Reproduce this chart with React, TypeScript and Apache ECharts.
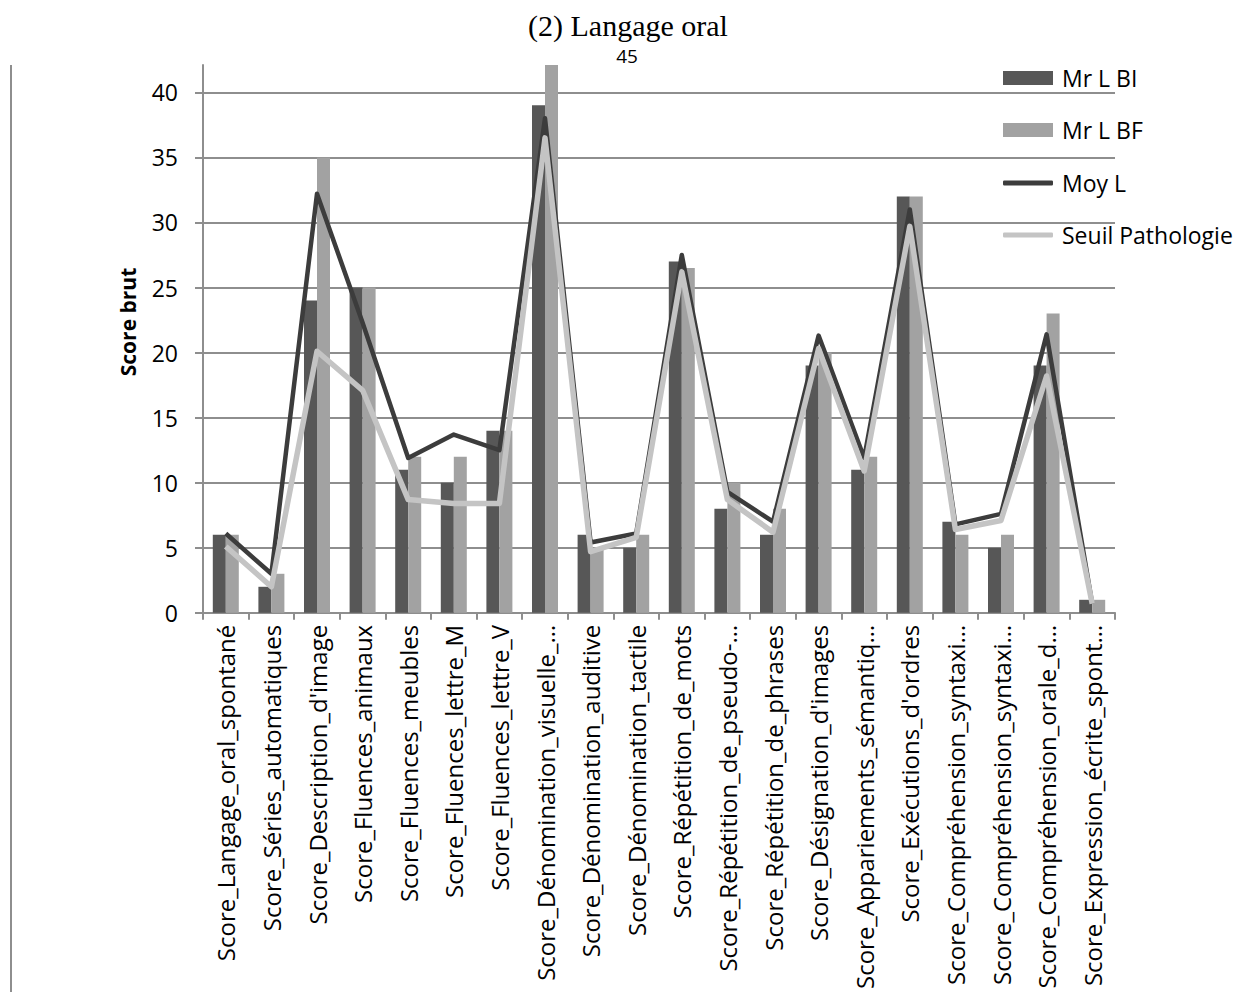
import React, { useEffect, useRef } from "react";
import * as echarts from "echarts";

const categories = [
  "Score_Langage_oral_spontané",
  "Score_Séries_automatiques",
  "Score_Description_d'image",
  "Score_Fluences_animaux",
  "Score_Fluences_meubles",
  "Score_Fluences_lettre_M",
  "Score_Fluences_lettre_V",
  "Score_Dénomination_visuelle_…",
  "Score_Dénomination_auditive",
  "Score_Dénomination_tactile",
  "Score_Répétition_de_mots",
  "Score_Répétition_de_pseudo-…",
  "Score_Répétition_de_phrases",
  "Score_Désignation_d'images",
  "Score_Appariements_sémantiq…",
  "Score_Exécutions_d'ordres",
  "Score_Compréhension_syntaxi…",
  "Score_Compréhension_syntaxi…",
  "Score_Compréhension_orale_d…",
  "Score_Expression_écrite_spont…",
];

const mrLBI = [6, 2, 24, 25, 11, 10, 14, 39, 6, 5, 27, 8, 6, 19, 11, 32, 7, 5, 19, 1];
const mrLBF = [6, 3, 35, 25, 12, 12, 14, 45, 5, 6, 26.5, 10, 8, 20, 12, 32, 6, 6, 23, 1];
const moyL = [6.1, 3.0, 32.2, 22.3, 11.9, 13.7, 12.5, 38.0, 5.4, 6.1, 27.5, 9.3, 7.0, 21.3, 11.9, 31.0, 6.8, 7.6, 21.4, 0.7];
const seuil = [5.1, 2.0, 20.1, 17.1, 8.7, 8.4, 8.4, 36.5, 4.7, 5.8, 26.2, 8.7, 6.2, 20.3, 10.9, 29.7, 6.4, 7.1, 18.2, 0.7];

const yTicks = [0, 5, 10, 15, 20, 25, 30, 35, 40];

const FONT = "Open Sans";
const GRID = "#8e8e8e";

export default function App() {
  const ref = useRef<HTMLDivElement>(null);
  useEffect(() => {
    if (!ref.current) return;
    const chart = echarts.init(ref.current, undefined, { renderer: "svg" });
    const legendText = { fontFamily: FONT, fontSize: 23, color: "#000", lineHeight: 26, padding: [0, 0, 0, 4] };
    chart.setOption({
      animation: false,
      backgroundColor: "#ffffff",
      grid: { left: 203, right: 119, top: 65, bottom: 378, containLabel: false },
      legend: [
        {
          orient: "vertical",
          left: 1003,
          top: 65,
          padding: 0,
          itemWidth: 50,
          itemHeight: 14,
          itemGap: 26,
          textStyle: legendText,
          data: [
            { name: "Mr L BI", icon: "rect" },
            { name: "Mr L BF", icon: "rect" },
          ],
        },
        {
          orient: "vertical",
          left: 1003,
          top: 170,
          padding: 0,
          itemWidth: 50,
          itemHeight: 5,
          itemGap: 26,
          textStyle: legendText,
          data: [
            { name: "Moy L", icon: "roundRect" },
            { name: "Seuil Pathologie", icon: "roundRect" },
          ],
        },
      ],
      graphic: [
        {
          type: "text",
          x: 628,
          y: 10,
          style: {
            text: "(2) Langage oral",
            font: "30px 'Liberation Serif'",
            fill: "#000",
            textAlign: "center",
            textVerticalAlign: "top",
          },
        },
        {
          type: "text",
          x: 627,
          y: 56,
          style: {
            text: "45",
            font: "19px 'Open Sans'",
            fill: "#000",
            textAlign: "center",
            textVerticalAlign: "middle",
          },
        },
        {
          type: "text",
          x: 128,
          y: 322,
          rotation: Math.PI / 2,
          style: {
            text: "Score brut",
            font: "bold 21px 'Open Sans'",
            fill: "#000",
            textAlign: "center",
            textVerticalAlign: "middle",
          },
        },
        {
          type: "line",
          shape: { x1: 11, y1: 65, x2: 11, y2: 992 },
          style: { stroke: GRID, lineWidth: 2 },
        },
      ],
      xAxis: {
        type: "category",
        data: categories,
        axisLine: { lineStyle: { color: GRID, width: 2 } },
        axisTick: { show: true, length: 7, lineStyle: { color: GRID, width: 2 } },
        axisLabel: {
          rotate: 90,
          interval: 0,
          margin: 12,
          fontFamily: FONT,
          fontSize: 24,
          color: "#000",
        },
      },
      yAxis: {
        type: "value",
        min: 0,
        max: 42.1,
        interval: 5,
        axisLine: { show: true, lineStyle: { color: GRID, width: 2 } },
        axisTick: { show: true, length: 8, lineStyle: { color: GRID, width: 2 } },
        axisLabel: {
          fontFamily: FONT,
          fontSize: 23,
          color: "#000",
          margin: 25,
          showMaxLabel: false,
          formatter: (v: number) => (yTicks.includes(v) ? String(v) : ""),
        },
        splitLine: { show: true, showMaxLine: false, lineStyle: { color: GRID, width: 2 } },
      },
      series: [
        {
          name: "Mr L BI",
          type: "bar",
          data: mrLBI,
          barWidth: 13,
          barGap: "0%",
          clip: true,
          itemStyle: { color: "#575757" },
        },
        {
          name: "Mr L BF",
          type: "bar",
          data: mrLBF,
          barWidth: 13,
          barGap: "0%",
          clip: true,
          itemStyle: { color: "#a2a2a2" },
        },
        {
          name: "Moy L",
          type: "line",
          data: moyL,
          symbol: "none",
          showSymbol: false,
          lineStyle: { color: "#3c3c3c", width: 4.5, join: "round" },
          itemStyle: { color: "#3c3c3c" },
        },
        {
          name: "Seuil Pathologie",
          type: "line",
          data: seuil,
          symbol: "none",
          showSymbol: false,
          lineStyle: { color: "#c4c4c4", width: 5.5, join: "round" },
          itemStyle: { color: "#c4c4c4" },
        },
      ],
    });
    return () => chart.dispose();
  }, []);
  return (
    <div
      ref={ref}
      style={{ position: "fixed", left: 0, top: 0, width: 1234, height: 992 }}
    />
  );
}
